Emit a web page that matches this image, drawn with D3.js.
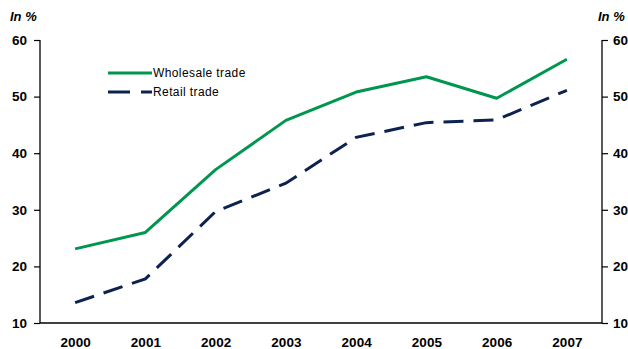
<!DOCTYPE html>
<html>
<head>
<meta charset="utf-8">
<script src="https://cdn.jsdelivr.net/npm/d3@7"></script>
<style>
  html, body { margin: 0; padding: 0; background: #fff; }
  svg { display: block; }
  text { font-family: "Liberation Sans", Arial, sans-serif; }
</style>
</head>
<body>
<svg id="chart" width="628" height="349"></svg>
<script>
// Share of sales, in %
const years = ["2000", "2001", "2002", "2003", "2004", "2005", "2006", "2007"];
const wholesale = [23.1, 26.0, 37.1, 45.8, 50.8, 53.5, 49.7, 56.6];
const retail = [13.6, 17.8, 29.7, 34.7, 42.8, 45.4, 45.9, 51.1];
const yTicks = [10, 20, 30, 40, 50, 60];
const seriesNames = ["Wholesale trade", "Retail trade"];

const green = "#00964f";
const navy = "#0c2250";

const svg = d3.select("#chart");
const plotLeft = 40, plotRight = 602, plotTop = 40, plotBottom = 323;

const x = d3.scalePoint().domain(years).range([plotLeft, plotRight]).padding(0.5);
const y = d3.scaleLinear().domain([10, 60]).range([plotBottom, plotTop]);

// Axes
const leftAxis = svg.append("g")
  .attr("transform", `translate(${plotLeft},0)`)
  .call(d3.axisLeft(y).tickValues(yTicks).tickSize(6).tickPadding(7));
const rightAxis = svg.append("g")
  .attr("transform", `translate(${plotRight},0)`)
  .call(d3.axisRight(y).tickValues(yTicks).tickSize(6).tickPadding(5));
const bottomAxis = svg.append("g")
  .attr("transform", `translate(0,${plotBottom})`)
  .call(d3.axisBottom(x).tickSize(0).tickPadding(14));

[leftAxis, rightAxis, bottomAxis].forEach(g => {
  g.select(".domain").attr("stroke", "#000").attr("stroke-width", 1.3);
  g.selectAll(".tick line").attr("stroke", "#000").attr("stroke-width", 1.2);
  g.selectAll(".tick text")
    .attr("fill", "#000")
    .style("font-size", "13.5px")
    .style("font-weight", "bold");
});
// keep the bottom domain exactly between the two vertical axes
bottomAxis.select(".domain").attr("d", `M${plotLeft},0H${plotRight}`);
leftAxis.select(".domain").attr("d", `M0,${plotBottom}V${plotTop}`);
rightAxis.select(".domain").attr("d", `M0,${plotBottom}V${plotTop}`);

// Unit labels
svg.append("text").attr("x", 10).attr("y", 21)
  .style("font-size", "13px").style("font-weight", "bold").style("font-style", "italic")
  .text("In %");
svg.append("text").attr("x", 598).attr("y", 21)
  .style("font-size", "13px").style("font-weight", "bold").style("font-style", "italic")
  .text("In %");

// Lines
const line = d3.line().x((d, i) => x(years[i])).y(d => y(d));

svg.append("path").datum(wholesale)
  .attr("fill", "none").attr("stroke", green).attr("stroke-width", 3)
  .attr("stroke-linejoin", "round")
  .attr("d", line);

svg.append("path").datum(retail)
  .attr("fill", "none").attr("stroke", navy).attr("stroke-width", 3)
  .attr("stroke-dasharray", "20,10")
  .attr("d", line);

// Legend
const legend = svg.append("g");
legend.append("line").attr("x1", 108).attr("x2", 152).attr("y1", 73).attr("y2", 73)
  .attr("stroke", green).attr("stroke-width", 3);
legend.append("line").attr("x1", 108).attr("x2", 152).attr("y1", 92).attr("y2", 92)
  .attr("stroke", navy).attr("stroke-width", 3).attr("stroke-dasharray", "22,11");
legend.append("text").attr("x", 153).attr("y", 77)
  .style("font-size", "12px").style("letter-spacing", "0.4px")
  .attr("fill", "#000").text(seriesNames[0]);
legend.append("text").attr("x", 153).attr("y", 96)
  .style("font-size", "12px").style("letter-spacing", "0.4px")
  .attr("fill", "#000").text(seriesNames[1]);
</script>
</body>
</html>
